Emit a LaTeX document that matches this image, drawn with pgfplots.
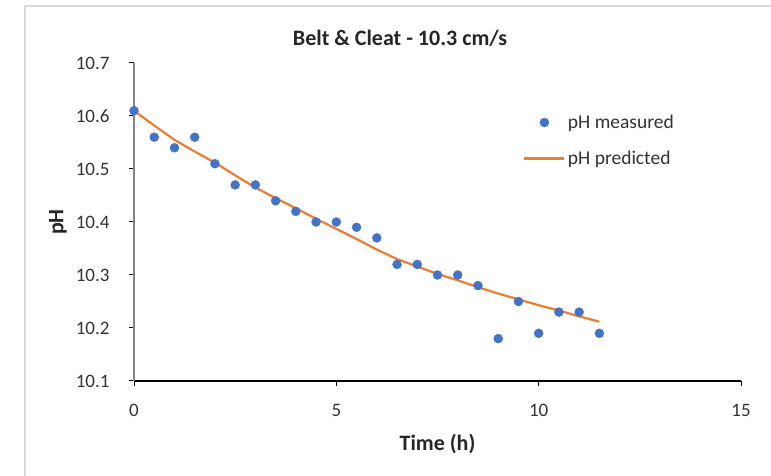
\documentclass[border=0pt]{standalone}
\usepackage{fontspec}
\setmainfont{Carlito}
\usepackage{pgfplots}
\pgfplotsset{compat=1.18}
\definecolor{measBlue}{HTML}{4472C4}
\definecolor{predOrange}{HTML}{ED7D31}
\definecolor{frameGray}{HTML}{D9D9D9}
\definecolor{yaxGray}{HTML}{868686}

\pgfplotsset{
  dotlegend/.style={legend image code/.code={\draw[mark repeat=2,mark phase=2,##1] plot coordinates {(0pt,0pt) (20pt,0pt) (40pt,0pt)};}},
  linelegend/.style={legend image code/.code={\draw[##1] (0pt,0pt) -- (40pt,0pt);}},
}

\pgfplotstableread{
t    ph
0    10.61
0.5  10.56
1    10.54
1.5  10.56
2    10.51
2.5  10.47
3    10.47
3.5  10.44
4    10.42
4.5  10.40
5    10.40
5.5  10.39
6    10.37
6.5  10.32
7    10.32
7.5  10.30
8    10.30
8.5  10.28
9    10.18
9.5  10.25
10   10.19
10.5 10.23
11   10.23
11.5 10.19
}\measured

\pgfplotstableread{
t    ph
0    10.610
0.5  10.582
1    10.555
1.5  10.533
2    10.512
2.5  10.488
3    10.465
3.5  10.445
4    10.426
4.5  10.406
5    10.387
5.5  10.368
6    10.348
6.5  10.330
7    10.316
7.5  10.302
8    10.290
8.5  10.277
9    10.265
9.5  10.254
10   10.243
10.5 10.233
11   10.222
11.5 10.212
}\predicted

\begin{document}
\begin{tikzpicture}
\path[use as bounding box] (0pt,0pt) rectangle (771pt,476pt);
% chart area frame (only left and top edges visible)
\draw[frameGray, line width=1.5pt] (25pt,0pt) -- (25pt,470pt) -- (771pt,470pt);

\node[font=\fontsize{22}{26}\selectfont\bfseries, text=black!85] at (400pt,438pt) {Belt \& Cleat - 10.3 cm/s};
\node[font=\fontsize{22}{26}\selectfont\bfseries, text=black!85, rotate=90] at (58pt,254pt) {pH};

\begin{axis}[
    at={(134pt,95pt)}, anchor=south west,
    scale only axis, width=607pt, height=318pt,
    xmin=0, xmax=15, ymin=10.1, ymax=10.7,
    xtick={0,5,10,15}, ytick={10.1,10.2,...,10.7},
    yticklabel={\pgfmathprintnumber[fixed,fixed zerofill,precision=1]{\tick}},
    axis lines*=left,
    x axis line style={black, line width=1.2pt},
    y axis line style={yaxGray, line width=1.8pt},
    tick align=outside, major tick length=5pt,
    tick style={black, line width=1pt},
    /pgf/number format/assume math mode=true,
    tick label style={font=\fontsize{19}{22}\selectfont, text=black!80},
    xticklabel style={yshift=-15pt},
    yticklabel style={xshift=-16pt},
    xlabel={Time (h)},
    label style={font=\fontsize{22}{26}\selectfont\bfseries, text=black!85},
    xlabel style={at={(axis description cs:0.5,-0.198)}, anchor=center},
    legend style={at={(axis description cs:0.641,0.845)}, anchor=north west,
        draw=none, fill=none, inner sep=0pt, row sep=16pt,
        font=\fontsize{19.5}{23}\selectfont, nodes={inner sep=2.5pt, text=black!80}},
    legend cell align=left,
    clip=false,
]
\addplot[only marks, mark=*, mark size=4.5pt, color=measBlue, dotlegend]
    table[x=t, y=ph] {\measured};
\addlegendentry{pH measured}
\addplot[no marks, color=predOrange, line width=2.2pt, linelegend]
    table[x=t, y=ph] {\predicted};
\addlegendentry{pH predicted}
\end{axis}
\end{tikzpicture}
\end{document}
